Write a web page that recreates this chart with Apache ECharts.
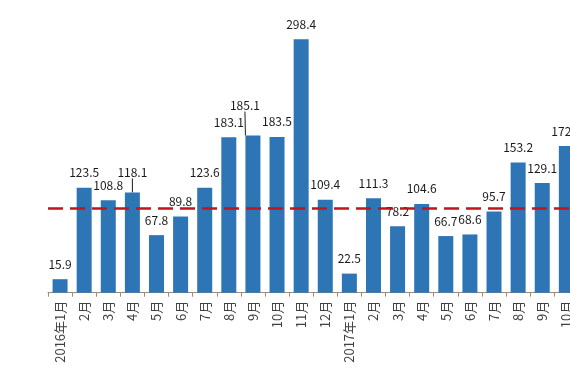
<!DOCTYPE html>
<html>
<head>
<meta charset="utf-8">
<script src="https://cdn.jsdelivr.net/npm/echarts@6/dist/echarts.min.js"></script>
<style>html,body{margin:0;padding:0;background:#fff;}#c{width:570px;height:380px;}</style>
</head>
<body>
<div id="c"></div>
<script>
const categories = ['2016年1月','2月','3月','4月','5月','6月','7月','8月','9月','10月','11月','12月',
  '2017年1月','2月','3月','4月','5月','6月','7月','8月','9月','10月'];
const values = [15.9,123.5,108.8,118.1,67.8,89.8,123.6,183.1,185.1,183.5,298.4,109.4,
  22.5,111.3,78.2,104.6,66.7,68.6,95.7,153.2,129.1,172.8];
const referenceLine = 100;
// label shifts (index -> [dx, dy]) for labels moved with a leader line
const movedLabels = {3: [0, -5], 8: [-8, -15]};

const barData = values.map(function (v, i) {
  return movedLabels[i] ? {value: v, labelLine: {show: true}} : v;
});

const chart = echarts.init(document.getElementById('c'), null, {renderer: 'canvas'});
chart.setOption({
  animation: false,
  grid: {left: 48, width: 530.4, top: 21, height: 271.7, containLabel: false, outerBoundsMode: 'none'},
  xAxis: {
    type: 'category',
    data: categories,
    axisLine: {show: true, lineStyle: {color: '#a08a78', width: 1}},
    axisTick: {show: true, length: 4, lineStyle: {color: '#a08a78'}},
    axisLabel: {rotate: 90, margin: 8, fontSize: 13, color: '#404040',
      fontFamily: '"Noto Sans CJK SC", sans-serif', interval: 0}
  },
  yAxis: {
    type: 'value', min: 0, max: 320, show: false,
    splitLine: {show: false}
  },
  series: [{
    type: 'bar',
    data: barData,
    barWidth: 15,
    itemStyle: {color: '#2e75b6'},
    label: {show: true, position: 'top', distance: 9, fontSize: 12, color: '#1a1a1a',
      fontFamily: '"Noto Sans CJK SC", sans-serif'},
    labelLine: {show: false, lineStyle: {color: '#1a1a1a', width: 1}},
    labelLayout: function (p) {
      const m = movedLabels[p.dataIndex];
      if (m) return {dx: m[0], dy: m[1]};
      return {};
    },
    markLine: {
      silent: true,
      symbol: 'none',
      label: {show: false},
      lineStyle: {color: '#c0141e', width: 2.5, type: [15, 7]},
      data: [{yAxis: referenceLine}]
    }
  }]
});
</script>
</body>
</html>
